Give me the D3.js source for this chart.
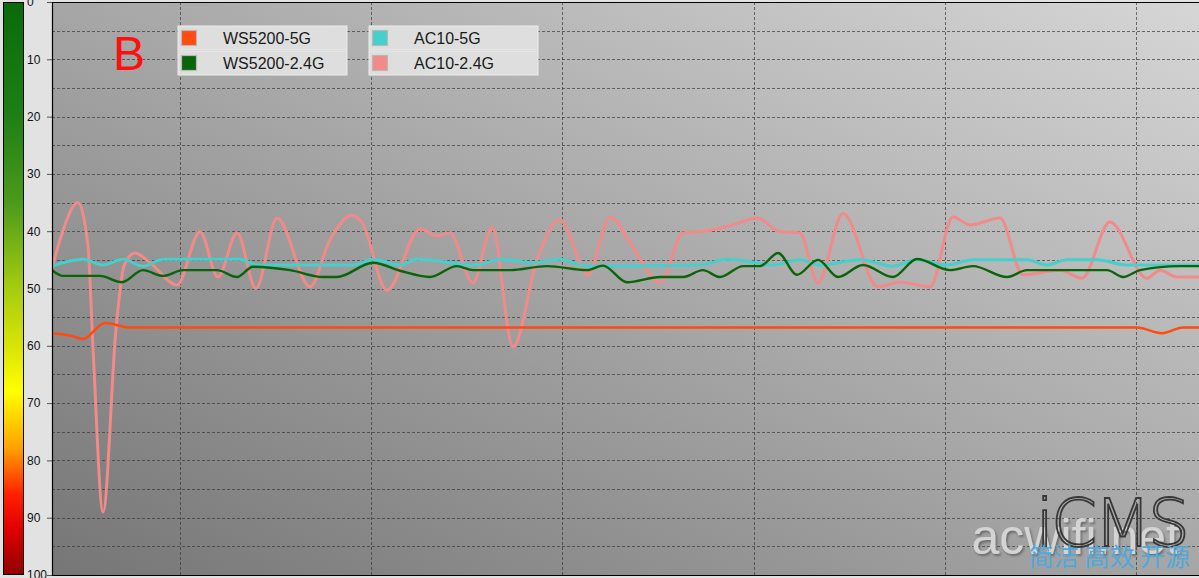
<!DOCTYPE html>
<html><head><meta charset="utf-8">
<script src="https://cdn.jsdelivr.net/npm/d3@7"></script>
<style>
html,body{margin:0;padding:0;background:#e2e2e2;overflow:hidden;}
svg{display:block;font-family:"Liberation Sans",Arial,sans-serif;}
</style></head><body>
<svg id="c" width="1199" height="578"></svg>
<script>
// ---- data (time in s, signal value) ----
const seriesNames = ["WS5200-5G","WS5200-2.4G","AC10-5G","AC10-2.4G"];
const ws5200_5g_t = [3.3,4.24,4.92,6.07,7.38,60.05,61.36,62.46,63.3];
const ws5200_5g_v = [57.8,58.2,58.8,56.0,56.8,56.8,57.8,56.8,56.8];
const ws5200_24_t = [3.3,3.88,5.81,6.96,8.06,9.11,10.15,11.93,12.98,13.81,15.75,17.48,18.21,20.09,21.5,23.07,24.48,25.32,27.26,29.19,31.29,32.12,33.38,35.1,36.31,37.35,38.24,39.45,40.34,41.28,42.27,43.37,44.42,45.72,47.29,48.55,50.28,51.48,53.26,54.3,58.49,59.33,60.21,62.31,63.3];
const ws5200_24_v = [46.8,47.8,47.8,48.9,46.8,47.8,46.8,46.8,48,46.2,46.8,48,48,45.5,46.9,48,46.1,46.8,46.8,46.1,46.8,46,48.9,48,48,46.8,48,46.1,46.1,43.8,47.6,45,48,45.9,48,44.85,46.8,46.1,48,46.8,46.8,48,46.8,46.1,46.1];
const ac10_5g_t = [3.3,4.92,5.97,7.01,8.06,9.11,13.13,14.02,19.05,20.09,21.5,22.39,25.53,26.74,28.46,29.87,31.29,37.2,38.61,39.97,41.02,42.43,43.47,45.57,47.29,48.55,50.12,51.48,54.3,55.35,56.4,57.97,59.53,63.3];
const ac10_5g_v = [46.1,44.9,45.9,44.9,46.1,44.9,44.9,45.9,45.9,44.9,45.9,44.9,45.9,44.9,45.5,44.9,46.1,45.9,44.9,45.4,45.9,45.0,45.9,45.0,46.1,45.0,45.9,45.0,45.0,45.9,45.0,45.0,45.9,45.9];
const ac10_24_t = [3.3,3.72,4.66,5.18,5.44,5.97,6.65,7.07,7.64,8.43,9.84,11.04,11.98,12.98,13.97,15.07,16.8,17.84,18.99,19.52,20.82,22.55,23.44,24.12,25.32,26.32,27.42,28.67,29.87,31.34,32.49,33.69,35.1,36.31,37.2,38.92,40.18,41.38,42.43,43.37,44.68,46.51,47.66,49.23,50.43,51.32,52.89,54.09,56.03,57.18,58.64,60.58,61.26,62.15,63.3];
const ac10_24_v = [46.5,41.5,35.0,42.5,60,89,57,46,43.8,45.5,49.4,40.1,48,40.3,50,37.7,49.7,41.5,37.2,38.5,50.3,39.6,40.8,40.3,49,39.3,60.2,45,38,47.6,37.5,42.8,49,40.3,40.1,38.9,37.7,40.1,40.3,49,36.9,49.7,48.9,49.7,37.5,38.9,37.7,47.6,46.8,48.2,38.4,48.2,46.8,48,48];
const yTicks = [0,10,20,30,40,50,60,70,80,90,100];
const xGridTicks = [10,20,30,40,50,60];
const yGridTicks = d3.range(5,100,5);

const svg = d3.select("#c");
const W = 1199, H = 578;
const L = 52, T = 2, B = 575;
const x = d3.scaleLinear().domain([3.3, 63.3]).range([L, W]);
const y = d3.scaleLinear().domain([0, 100]).range([T, B]);

const defs = svg.append("defs");
const bg = defs.append("linearGradient").attr("id","bg").attr("x1","0").attr("y1","1").attr("x2","1").attr("y2","0");
bg.append("stop").attr("offset","0").attr("stop-color","#767676");
bg.append("stop").attr("offset","0.5").attr("stop-color","#a6a6a6");
bg.append("stop").attr("offset","1").attr("stop-color","#d6d6d6");
const cb = defs.append("linearGradient").attr("id","cb").attr("x1","0").attr("y1","0").attr("x2","0").attr("y2","1");
[[0,"#0a6a0a"],[0.2,"#1f7f16"],[0.35,"#4c9a1c"],[0.5,"#a6cc10"],[0.6,"#d8e408"],[0.68,"#ffff00"],[0.78,"#ffa000"],[0.86,"#ff2000"],[0.92,"#e00000"],[1,"#900000"]]
  .forEach(s=>cb.append("stop").attr("offset",s[0]).attr("stop-color",s[1]));
defs.append("clipPath").attr("id","clip").append("rect").attr("x",L).attr("y",T).attr("width",W-L).attr("height",B-T);
const sh = defs.append("filter").attr("id","emb").attr("x","-5%").attr("y","-5%").attr("width","110%").attr("height","120%");
sh.append("feDropShadow").attr("dx",1.5).attr("dy",2).attr("stdDeviation",1.2).attr("flood-color","#555").attr("flood-opacity",0.7);

// color bar
svg.append("rect").attr("x",3.5).attr("y",2.5).attr("width",20).attr("height",572).attr("fill","url(#cb)").attr("stroke","#000");

// y axis labels
const yAxis = d3.axisLeft(y).tickValues(yTicks).tickSize(5).tickPadding(0).tickFormat(d3.format("d"));
const ya = svg.append("g").attr("transform",`translate(${L},0)`).call(yAxis);
ya.select(".domain").remove();
ya.selectAll(".tick line").attr("stroke","#555");
ya.selectAll(".tick text").attr("x",-25).attr("text-anchor","start").attr("font-size",12).attr("fill","#111").attr("font-family","'Liberation Sans',Arial,sans-serif");

// plot bg
svg.append("rect").attr("x",L).attr("y",T).attr("width",W-L).attr("height",B-T).attr("fill","url(#bg)");

// grid
const g = svg.append("g").attr("clip-path","url(#clip)");
g.selectAll(".hg").data(yGridTicks).join("line")
  .attr("x1",L).attr("x2",W).attr("y1",d=>Math.round(y(d))+0.5).attr("y2",d=>Math.round(y(d))+0.5)
  .attr("stroke","#3a3a3a").attr("stroke-width",1).attr("stroke-dasharray","3,2").attr("opacity",0.7);
g.selectAll(".vg").data(xGridTicks).join("line")
  .attr("y1",T).attr("y2",B).attr("x1",d=>Math.round(x(d))+0.5).attr("x2",d=>Math.round(x(d))+0.5)
  .attr("stroke","#3a3a3a").attr("stroke-width",1).attr("stroke-dasharray","3,2").attr("opacity",0.7);

// watermark
const wm = svg.append("g");
wm.append("text").attr("x",1180).attr("y",554).attr("text-anchor","end").attr("font-size",50)
  .attr("fill","#d4d4d4").attr("filter","url(#emb)").attr("font-family","'Liberation Sans',Arial,sans-serif").text("acwifi.net");
wm.append("text").attr("x",1187).attr("y",546).attr("text-anchor","end").attr("font-size",66)
  .attr("fill","none").attr("stroke","#383838").attr("stroke-width",1.8).attr("font-family","'DejaVu Sans',sans-serif").attr("font-weight","200").attr("letter-spacing","-3").text("iCMS");
wm.append("text").attr("x",1190).attr("y",566).attr("text-anchor","end").attr("font-size",25)
  .attr("fill","#4ea9dc").attr("font-family","'Noto Sans CJK SC',sans-serif").text("简洁 高效 开源");

// lines
const series = [
  {name:seriesNames[3], t:ac10_24_t, v:ac10_24_v, color:"#f28a8a", w:3},
  {name:seriesNames[2], t:ac10_5g_t, v:ac10_5g_v, color:"#44d0cc", w:3},
  {name:seriesNames[1], t:ws5200_24_t, v:ws5200_24_v, color:"#0a640a", w:2.4},
  {name:seriesNames[0], t:ws5200_5g_t, v:ws5200_5g_v, color:"#ff4a10", w:2.5}
];
const line = d3.line().x(d=>x(d[0])).y(d=>y(d[1])).curve(d3.curveMonotoneX);
g.selectAll(".ln").data(series).join("path")
  .attr("fill","none").attr("stroke",d=>d.color).attr("stroke-width",d=>d.w).attr("stroke-linejoin","round")
  .attr("d",d=>line(d.t.map((t,i)=>[t,d.v[i]])));

// frame
svg.append("path").attr("d",`M${W},${T+0.5}H${L+0.5}V${B+0.5}H${W}`).attr("fill","none").attr("stroke","#000").attr("stroke-width",1.2);

// "B"
svg.append("text").attr("x",113).attr("y",70).attr("font-size",48).attr("fill","#ff1010").attr("font-family","'Liberation Sans',Arial,sans-serif").text("B");

// legend
const legCols = [
  {x:178, items:[{n:seriesNames[0],c:"#ff4a10"},{n:seriesNames[1],c:"#0a640a"}], tx:223},
  {x:369, items:[{n:seriesNames[2],c:"#44d0cc"},{n:seriesNames[3],c:"#f28a8a"}], tx:414}
];
legCols.forEach(col=>{
  col.items.forEach((it,i)=>{
    const yy = 26 + i*25;
    svg.append("rect").attr("x",col.x).attr("y",yy).attr("width",169).attr("height",24)
      .attr("fill","#dedede").attr("stroke","#ececec").attr("stroke-width",1);
    svg.append("rect").attr("x",col.x+3.5).attr("y",yy+4.5).attr("width",15).attr("height",15)
      .attr("fill",it.c).attr("stroke","#b8b8b8").attr("stroke-width",1.2);
    svg.append("text").attr("x",col.tx).attr("y",yy+18).attr("font-size",16).attr("fill","#1a1a1a")
      .attr("font-family","'Liberation Sans',Arial,sans-serif").text(it.n);
  });
});
</script>
</body></html>
